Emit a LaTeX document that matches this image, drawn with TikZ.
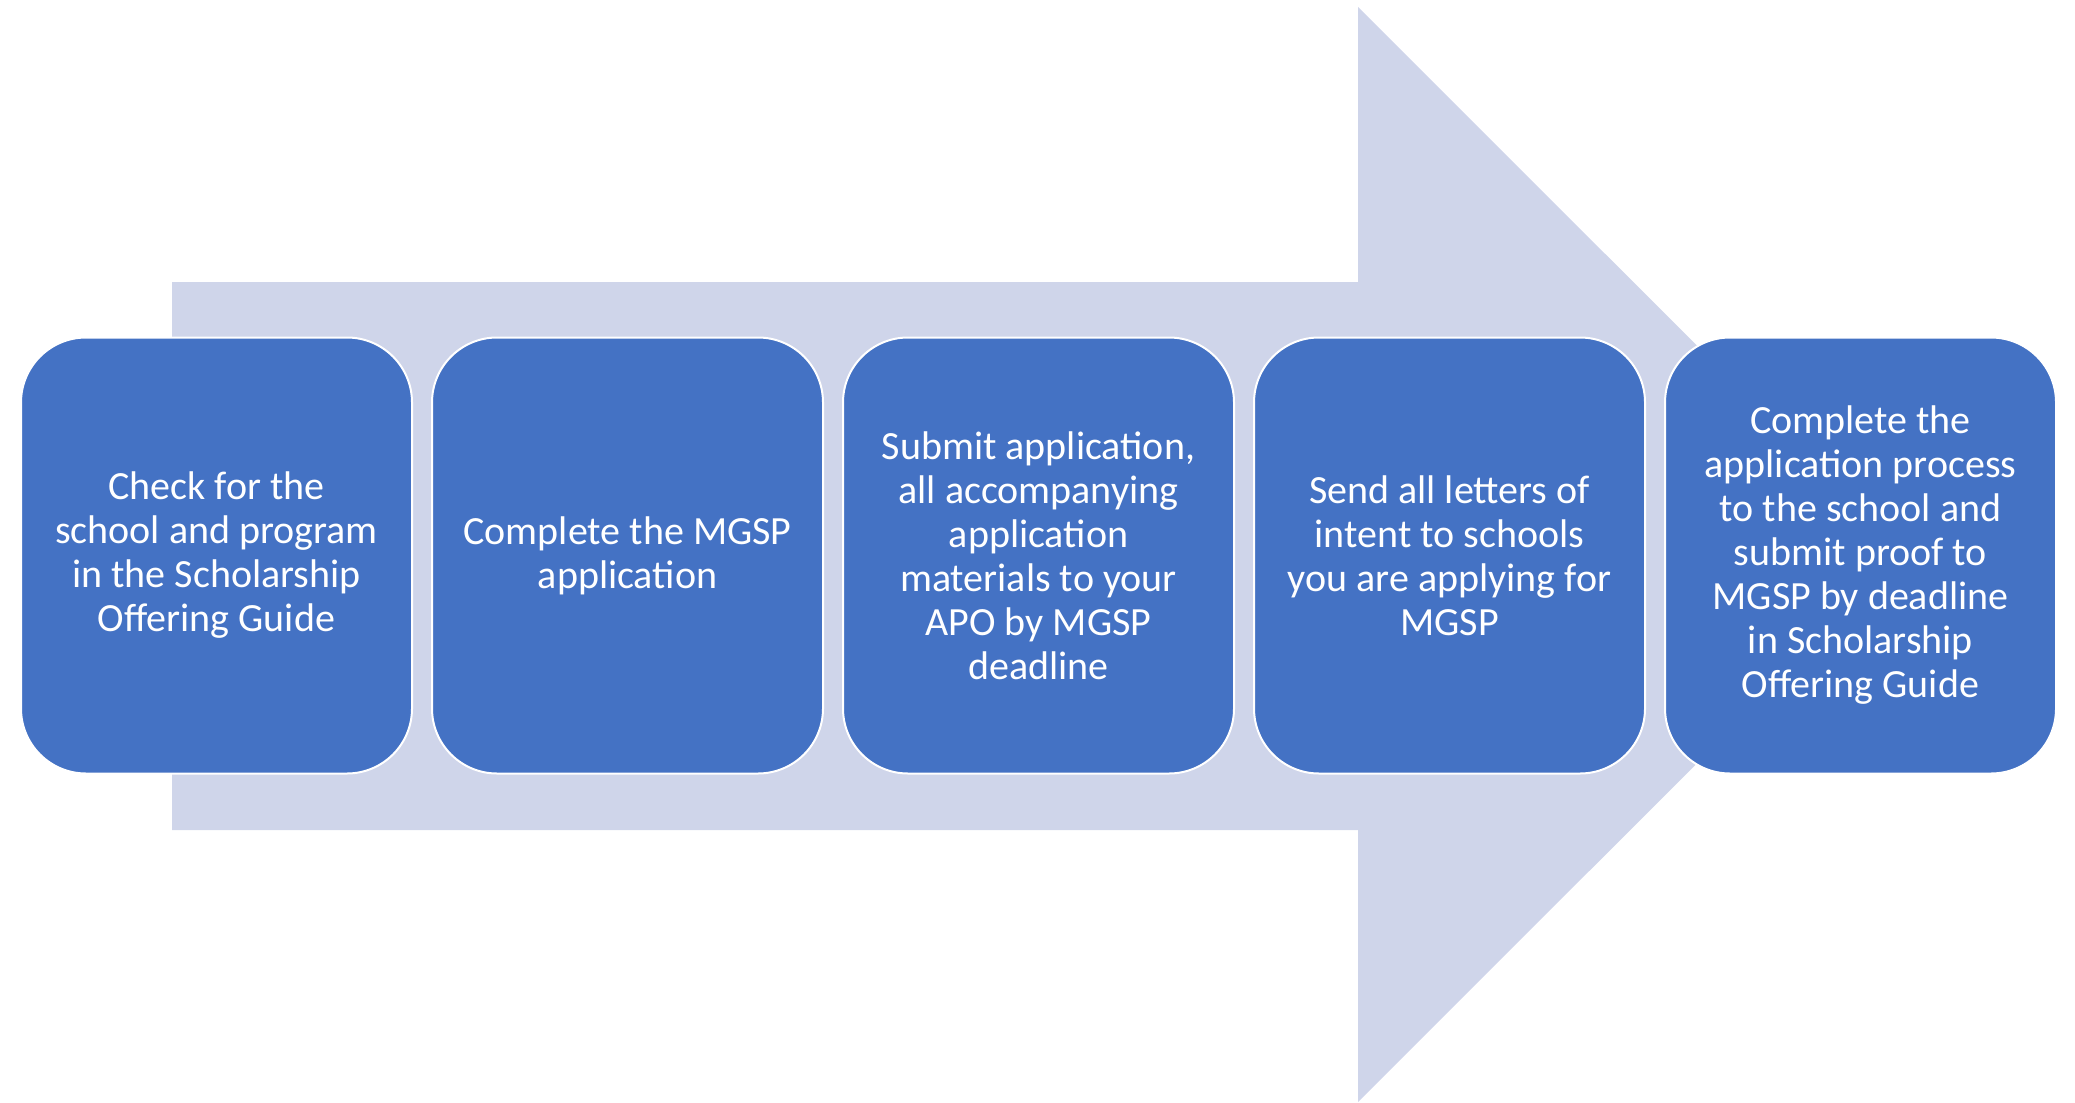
\documentclass[tikz,border=0pt]{standalone}
\usepackage{fontspec}
\setmainfont{Carlito}
\usepackage{tikz}

\definecolor{arrowfill}{HTML}{CFD5EA}
\definecolor{boxfill}{HTML}{4472C4}

\begin{document}
\begin{tikzpicture}[x=0.5pt,y=-0.5pt,
    stepbox/.style={rectangle, rounded corners=32.5pt, fill=boxfill, draw=white,
      line width=1pt, minimum width=195.5pt, minimum height=218pt, inner sep=0pt,
      text=white, align=center, font=\fontsize{20}{22}\selectfont}]
      \useasboundingbox (0,0) rectangle (2075,1102);
      %%%%%%%%%%%%%%%%%%%%%%%%%%%%%%%%%%%%%%%%%%%%%%%
      \coordinate (tl) at (172,282);
      \coordinate (bl) at (172,830);
      \coordinate (tip) at (1906,554.5);
      \fill[arrowfill] (tl) -- (1358,282) -- (1358,7) -- (tip)
            -- (1358,1102) -- (1358,830) -- (bl) -- cycle;
      %%%%%%%%%%%%%%%%%%%%%%%%%%%%%%%%%%%%%%%%%%%%%%%
      \node[stepbox] at (216.5,555.5) (s1) {Check for the\\school and program\\in the Scholarship\\Offering Guide};
      \node[stepbox] at (627.5,555.5) (s2) {Complete the MGSP\\application};
      \node[stepbox] at (1038.5,555.5) (s3) {Submit application,\\all accompanying\\application\\materials to your\\APO by MGSP\\deadline};
      \node[stepbox] at (1449.5,555.5) (s4) {Send all letters of\\intent to schools\\you are applying for\\MGSP};
      \node[stepbox] at (1860.5,555.5) (s5) {Complete the\\application process\\to the school and\\submit proof to\\MGSP by deadline\\in Scholarship\\Offering Guide};
      %%%%%%%%%%%%%%%%%%%%%%%%%%%%%%%%%%%%%%%%%%%%%%%
\end{tikzpicture}
\end{document}
